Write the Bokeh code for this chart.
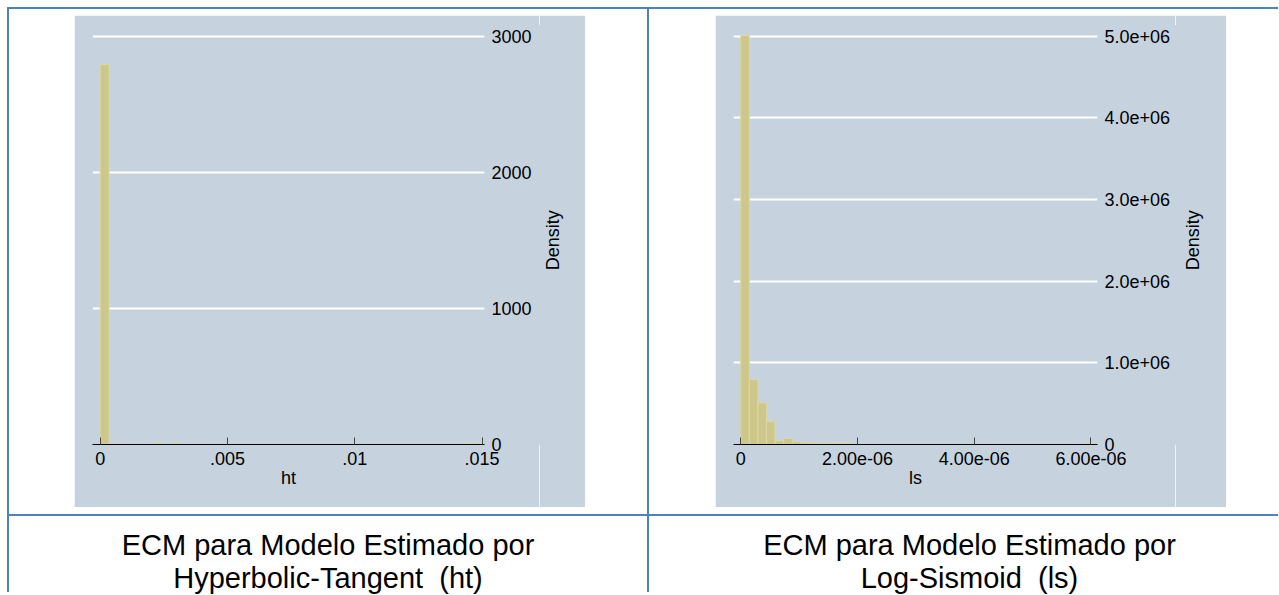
from bokeh.plotting import figure
from bokeh.layouts import row, column
from bokeh.models import (Div, Spacer, FixedTicker, Range1d, ColumnDataSource,
                          CustomJSTickFormatter)
from bokeh.core.properties import value
from bokeh.embed import file_html
from bokeh.resources import INLINE

# ---------------- data ----------------
ht_bin_width = 0.00035
ht_bin_left = [0.0, 0.0021, 0.0028, 0.01435]
ht_density = [2791, 9, 9, 9]
ht_xticks = [0, 0.005, 0.01, 0.015]
ht_xlabels = ["0", ".005", ".01", ".015"]
ht_yticks = [0, 1000, 2000, 3000]
ht_ylabels = ["0", "1000", "2000", "3000"]

ls_bin_width = 1.47e-07
ls_bin_left = [0.0, 1.47e-07, 2.94e-07, 4.41e-07, 5.88e-07, 7.35e-07, 8.82e-07,
               1.029e-06, 1.176e-06, 1.323e-06, 1.47e-06, 1.617e-06, 1.764e-06, 5.88e-06]
ls_density = [5.01e6, 0.796e6, 0.51e6, 0.28e6, 0.049e6, 0.073e6, 0.033e6,
              0.02e6, 0.017e6, 0.015e6, 0.015e6, 0.015e6, 0.015e6, 0.015e6]
ls_xticks = [0, 2e-06, 4e-06, 6e-06]
ls_xlabels = ["0", "2.00e-06", "4.00e-06", "6.00e-06"]
ls_yticks = [0, 1e6, 2e6, 3e6, 4e6, 5e6]
ls_ylabels = ["0", "1.0e+06", "2.0e+06", "3.0e+06", "4.0e+06", "5.0e+06"]

y_title = "Density"
captions = ["ECM para Modelo Estimado por<br>Hyperbolic-Tangent&nbsp; (ht)",
            "ECM para Modelo Estimado por<br>Log-Sismoid&nbsp; (ls)"]

# ---------------- style ----------------
GRAY = "#c6d3df"
BLUE = "#4f81bd"
BAR_FILL = "#cdc789"
BAR_LINE = "#dcd8a6"
FONT = "Liberation Sans"
PANEL_H = 492


def make_hist(lefts, dens, width, x_rng, y_end, xticks, xlabels, yticks, ylabels,
              xtitle, fig_w, border_right):
    p = figure(width=fig_w, height=PANEL_H, output_backend="svg", toolbar_location=None,
               x_range=Range1d(*x_rng), y_range=Range1d(0, y_end),
               y_axis_location="right",
               min_border_left=18, min_border_right=border_right,
               min_border_top=10, min_border_bottom=63,
               background_fill_color=GRAY, border_fill_color=GRAY, margin=0)
    p.outline_line_color = GRAY
    p.outline_line_width = 1
    src = ColumnDataSource(dict(left=lefts, right=[l + width for l in lefts], top=dens))
    p.quad(left="left", right="right", bottom=0, top="top", source=src,
           fill_color=BAR_FILL, line_color=BAR_LINE, line_width=1)

    p.xgrid.visible = False
    p.ygrid.ticker = FixedTicker(ticks=yticks[1:])
    p.ygrid.grid_line_color = "white"
    p.ygrid.grid_line_width = 2

    xa = p.xaxis[0]
    xa.ticker = FixedTicker(ticks=xticks)
    xa.formatter = CustomJSTickFormatter(args=dict(labels=xlabels), code="return labels[index];")
    xa.major_tick_in = 7
    xa.major_tick_out = 0
    xa.minor_tick_line_color = None
    xa.axis_line_color = "black"
    xa.major_tick_line_color = "#444444"
    xa.major_label_standoff = 7
    xa.major_label_text_font = FONT
    xa.major_label_text_font_size = "18px"
    xa.major_label_text_color = "black"
    xa.axis_label = xtitle
    xa.axis_label_text_font = FONT
    xa.axis_label_text_font_size = "18px"
    xa.axis_label_text_font_style = "normal"
    xa.axis_label_text_color = "black"
    xa.axis_label_standoff = 0

    ya = p.yaxis[0]
    ya.ticker = FixedTicker(ticks=yticks)
    ya.formatter = CustomJSTickFormatter(args=dict(labels=ylabels), code="return labels[index];")
    ya.major_tick_in = 0
    ya.major_tick_out = 0
    ya.minor_tick_line_color = None
    ya.axis_line_color = None
    ya.major_label_standoff = 7
    ya.major_label_text_font = FONT
    ya.major_label_text_font_size = "18px"
    ya.major_label_text_color = "black"
    return p


def title_strip(w, cx, y_end):
    """Narrow gray strip carrying the y-axis title, read bottom-to-top,
    centred on the middle of the histogram's y axis."""
    s = figure(width=w, height=PANEL_H, output_backend="svg", toolbar_location=None,
               x_range=Range1d(0, w), y_range=Range1d(0, y_end),
               x_axis_type=None, y_axis_type=None, min_border=0,
               background_fill_color=GRAY, border_fill_color=GRAY, margin=0)
    s.outline_line_color = GRAY
    s.outline_line_width = 1
    s.grid.visible = False
    s.text(x=[cx], y=[0.4872 * y_end], text=[y_title], angle=90, angle_units="deg",
           text_align="center", text_baseline="middle",
           text_font=value(FONT), text_font_size="18px", text_color="black")
    return s


p1 = make_hist(ht_bin_left, ht_density, ht_bin_width, (-0.000302, 0.015095), 3078.6,
               ht_xticks, ht_xlabels, ht_yticks, ht_ylabels, "ht", 465, 55)
s1 = title_strip(46, 13, 3078.6)
p2 = make_hist(ls_bin_left, ls_density, ls_bin_width, (-1.251e-07, 6.113e-06), 5.131e6,
               ls_xticks, ls_xlabels, ls_yticks, ls_ylabels, "ls", 460, 78)
s2 = title_strip(51, 17, 5.131e6)


def line(w, h):
    return Div(text="", width=w, height=h, margin=0,
               styles={"background-color": BLUE})


def caption(i, w, h, shift):
    html = ('<div style="box-sizing:border-box;width:%dpx;text-align:center;'
            'font-family:\'Liberation Sans\',Arial,sans-serif;'
            'font-size:29px;line-height:33px;padding-top:13px;padding-left:%dpx;color:#000;">%s</div>'
            % (w, shift, captions[i]))
    return Div(text=html, width=w, height=h, margin=0)


def sp(w, h):
    return Spacer(width=w, height=h, margin=0)


left_cell = column(sp(638, 6),
                   row(sp(65, PANEL_H), p1, s1, sp(62, PANEL_H), spacing=0, margin=0),
                   sp(638, 7), spacing=0, margin=0)
right_cell = column(sp(629, 6),
                    row(sp(66, PANEL_H), p2, s2, sp(52, PANEL_H), spacing=0, margin=0),
                    sp(629, 7), spacing=0, margin=0)

CAP_H = 76
row1 = row(line(2, 505), left_cell, line(2, 505), right_cell, spacing=0, margin=0)
row2 = row(line(2, CAP_H), caption(0, 638, CAP_H, 0), line(2, CAP_H),
           caption(1, 629, CAP_H, 12), spacing=0, margin=0)
table = column(line(1271, 2), row1, line(1271, 2), row2, spacing=0, margin=0)
page = column(sp(1279, 7), row(sp(7, 585), table, spacing=0, margin=0), spacing=0, margin=0)

open("out.html", "w").write(file_html(page, INLINE))
